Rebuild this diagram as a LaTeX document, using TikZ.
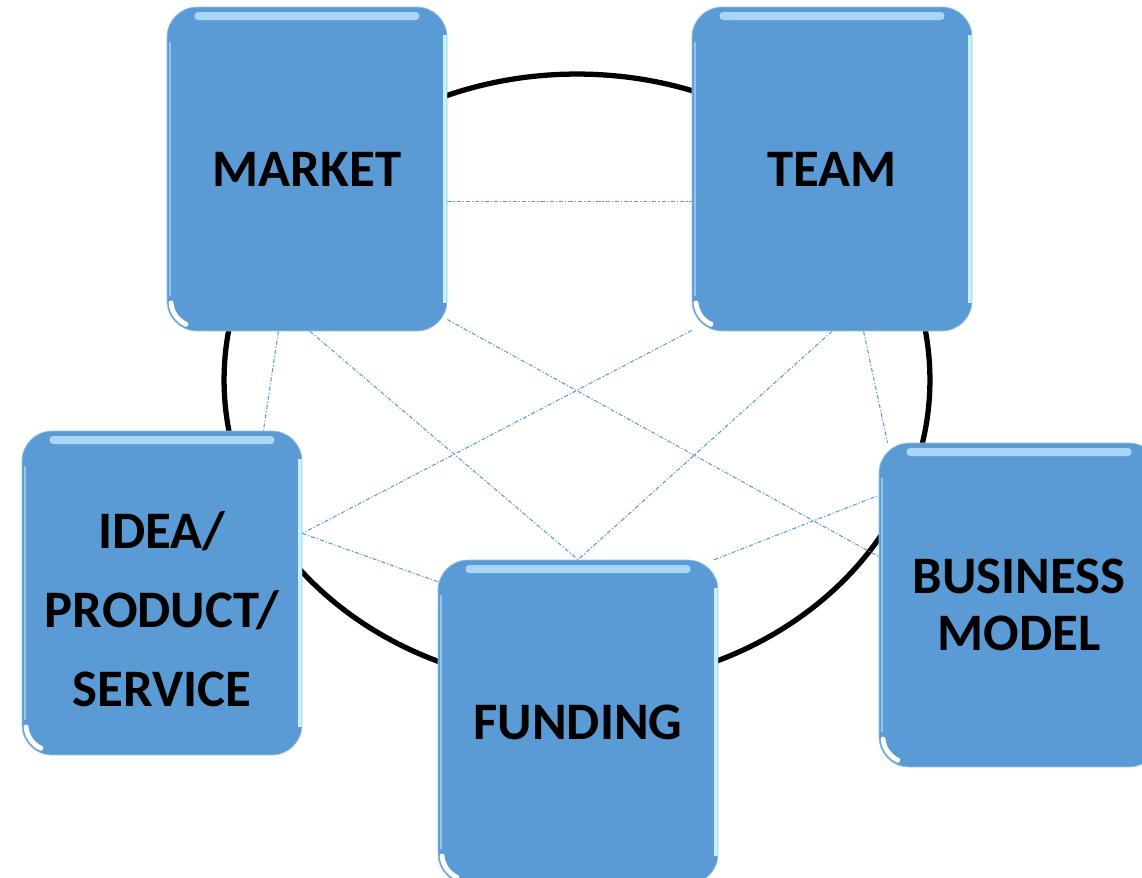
\documentclass[tikz,border=0pt]{standalone}
\usepackage{fontspec}
\setmainfont{Carlito}
\usepackage{tikz}
\usetikzlibrary{backgrounds}
\definecolor{boxblue}{HTML}{5B9BD5}
\definecolor{shineblue}{HTML}{A9D5F7}
\definecolor{edgecyan}{HTML}{C8F2FF}
\definecolor{rimblue}{HTML}{8EC3EC}
\definecolor{linkblue}{HTML}{5B9BD5}

\begin{document}
\begin{tikzpicture}[x=0.02cm,y=-0.02cm]
\tikzset{box/.style = {rectangle,rounded corners=0.6cm,draw=rimblue,line width=0.4pt,fill=boxblue,
  minimum width=5.6cm,minimum height=6.48cm,align=center,text=black,
  font=\bfseries\fontsize{30}{45}\selectfont,
  path picture={
    \fill[shineblue,rounded corners=2pt] ([xshift=0.55cm,yshift=-0.1cm]path picture bounding box.north west) rectangle ([xshift=-0.55cm,yshift=-0.26cm]path picture bounding box.north east);
    \draw[edgecyan,line width=2pt] ([xshift=-0.04cm,yshift=-0.55cm]path picture bounding box.north east) -- ([xshift=-0.04cm,yshift=0.55cm]path picture bounding box.south east);
    \draw[shineblue!70!boxblue,line width=1.4pt] ([xshift=0.06cm,yshift=-0.7cm]path picture bounding box.north west) -- ([xshift=0.06cm,yshift=0.7cm]path picture bounding box.south west);
    \draw[white,line width=2.8pt,line cap=round] ([xshift=0.08cm,yshift=0.56cm]path picture bounding box.south west) arc[start angle=185,end angle=245,radius=0.52cm];
  }}}
\tikzset{link/.style = {linkblue,line width=0.6pt,dash pattern=on 2.4pt off 1.1pt on 0.7pt off 1.1pt}}
\useasboundingbox (0,0) rectangle (1142,878);
\clip (0,0) rectangle (1142,878);
% vertices
\node[box] (market) at (307,169) {MARKET};
\node[box] (team) at (832,169) {TEAM};
\node[box] (idea) at (162,593) {\rule{0pt}{39pt}IDEA/\\PRODUCT/\\SERVICE};
\node[box] (funding) at (578,722) {FUNDING};
\node[box,font=\bfseries\fontsize{30}{32}\selectfont] (business) at (1019,605) {BUSINESS\\MODEL};
%edges
\begin{scope}[on background layer]
\draw[line width=3pt] (577,380) ellipse [x radius=7.06cm,y radius=6.12cm];
\draw[link] (market.347) -- (team.193);
\draw[link] (market.260) -- (idea.58);
\draw[link] (market.271) -- (funding.north);
\draw[link] (market.313) -- (business.161);
\draw[link] (team.229) -- (idea.23);
\draw[link] (team.south) -- (funding.north);
\draw[link] (team.281) -- (business.129);
\draw[link] (idea.23) -- (funding.135);
\draw[link] (funding.50) -- (business.142);
\end{scope}
\end{tikzpicture}
\end{document}
